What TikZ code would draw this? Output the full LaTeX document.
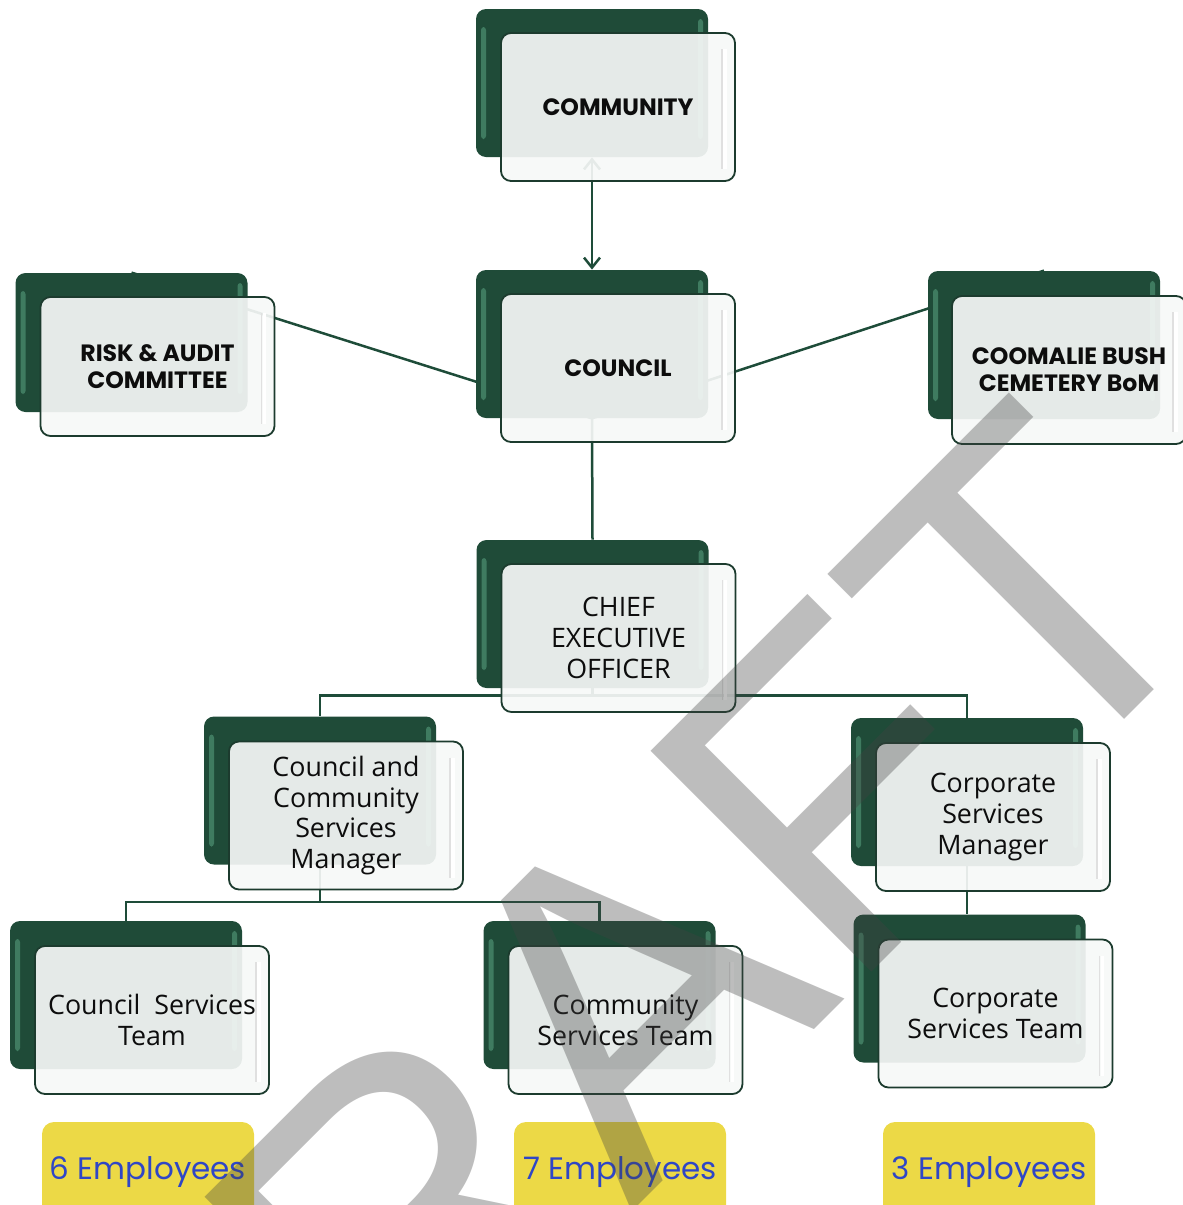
\documentclass[tikz,border=0pt]{standalone}
\usepackage{fontspec}
\setmainfont{Open Sans}
\newfontfamily\headfont{Poppins}
\newfontfamily\markfont{Liberation Sans}
\usetikzlibrary{arrows.meta,positioning}
\pgfdeclarelayer{background}
\pgfsetlayers{background,main}

\definecolor{boxgreen}{HTML}{1F4B38}
\definecolor{boxshine}{HTML}{3F7B60}
\definecolor{boxedge}{HTML}{1C3B2E}
\definecolor{linkgreen}{HTML}{1E4C39}
\definecolor{tagyellow}{HTML}{ECD946}
\definecolor{tagblue}{HTML}{2F46C6}
\definecolor{markgray}{HTML}{424242}

\tikzset{
  backbox/.style={fill=boxgreen, rounded corners=5pt, inner sep=0pt,
    minimum width=116pt, minimum height=74pt,
    path picture={
      \fill[boxshine, rounded corners=1.5pt]
        ([shift={(2.5pt,-9pt)}]path picture bounding box.north west) rectangle
        ([shift={(5pt,9pt)}]path picture bounding box.south west);
      \fill[boxshine, rounded corners=1.5pt]
        ([shift={(-2.5pt,-5pt)}]path picture bounding box.north east) rectangle
        ([shift={(-5pt,9pt)}]path picture bounding box.south east);}},
  frontbox/.style={draw=boxedge, line width=0.9pt, fill=white!96!boxgreen,
    fill opacity=0.92, text opacity=1, rounded corners=5pt, inner sep=0pt,
    minimum width=117pt, minimum height=74pt, align=center, text=black!95,
    font=\fontsize{13.4pt}{15.3pt}\selectfont,
    path picture={
      \draw[white, line width=1.6pt]
        ([shift={(-5pt,-8pt)}]path picture bounding box.north east) --
        ([shift={(-5pt,6pt)}]path picture bounding box.south east);
      \draw[black!12, line width=0.6pt]
        ([shift={(-6.5pt,-8pt)}]path picture bounding box.north east) --
        ([shift={(-6.5pt,6pt)}]path picture bounding box.south east);}},
  headbox/.style={frontbox, font=\headfont\bfseries\fontsize{11.8pt}{13.5pt}\selectfont},
  link/.style={draw=linkgreen, line width=1.25pt},
  twoway/.style={link, <->, >={Straight Barb[length=5pt,width=8pt]}},
  tag/.style={fill=tagyellow, rounded corners=6pt, inner sep=0pt,
    minimum width=106pt, minimum height=50pt, text=tagblue,
    font=\headfont\fontsize{15.5pt}{15.5pt}\selectfont},
  watermark/.style={rotate=45, anchor=base, inner sep=0pt, text=markgray,
    text opacity=0.35, font=\markfont\fontsize{227pt}{227pt}\selectfont}
}

\begin{document}
\begin{tikzpicture}[x=0.5pt, y=-0.5pt]
  \useasboundingbox (0,0) rectangle (1183,1205);

  \node[backbox] (communityb) at (592,83) {};
  \node[backbox] (councilb) at (592,344) {};
  \node[backbox, minimum height=69.5pt] (riskb) at (131.5,342.5) {};
  \node[backbox] (coomalieb) at (1044,345) {};
  \node[backbox] (ceob) at (592.5,614) {};
  \node[backbox] (ccsmb) at (320,790.5) {};
  \node[backbox] (csmb) at (967,792) {};
  \node[backbox] (cstb) at (126,995) {};
  \node[backbox] (comstb) at (599.5,995) {};
  \node[backbox] (corstb) at (969.5,988.5) {};

  \node[headbox] (community) at ([shift={(26,24)}]communityb.center) {COMMUNITY};
  \node[headbox] (council) at ([shift={(26,24)}]councilb.center) {COUNCIL};
  \node[headbox, minimum height=69.5pt] (risk) at ([shift={(26,24)}]riskb.center) {RISK \& AUDIT\\COMMITTEE};
  \node[headbox] (coomalie) at ([shift={(25,25)}]coomalieb.center) {COOMALIE BUSH\\CEMETERY BoM};
  \node[frontbox] (ceo) at ([shift={(26,24)}]ceob.center) {CHIEF\\EXECUTIVE\\OFFICER};
  \node[frontbox] (ccsm) at ([shift={(26,25)}]ccsmb.center) {Council and\\Community\\Services\\Manager};
  \node[frontbox] (csm) at ([shift={(26,25)}]csmb.center) {Corporate\\Services\\Manager};
  \node[frontbox] (cst) at ([shift={(26,25)}]cstb.center) {Council~~Services\\Team};
  \node[frontbox] (comst) at ([shift={(26,25)}]comstb.center) {Community\\Services Team};
  \node[frontbox] (corst) at ([shift={(26,25)}]corstb.center) {Corporate\\Services Team};

  \begin{pgfonlayer}{background}
    \draw[twoway] (communityb.south) -- (councilb.north);
    \draw[link] (riskb.north) -- (councilb.south) -- (coomalieb.north);
    \draw[link] (councilb.south) -- (ceob.north);
    \draw[link] (ceob.south) -- ++(0,7) -| (ccsmb.north);
    \draw[link] (ceob.south) -- ++(0,7) -| (csmb.north);
    \draw[link] (ccsmb.south) -- ++(0,37) -| (cstb.north);
    \draw[link] (ccsmb.south) -- ++(0,37) -| (comstb.north);
    \draw[link] (csmb.south) -- (csmb.south |- corstb.north);
  \end{pgfonlayer}

  \node[tag] (tagsix) at (148,1172) {6 Employees};
  \node[tag] (tagseven) at (620,1172) {7 Employees};
  \node[tag] (tagthree) at (989,1172) {3 Employees};

  \node[watermark] (draft) at (703,1141) {DRAFT};
\end{tikzpicture}
\end{document}
